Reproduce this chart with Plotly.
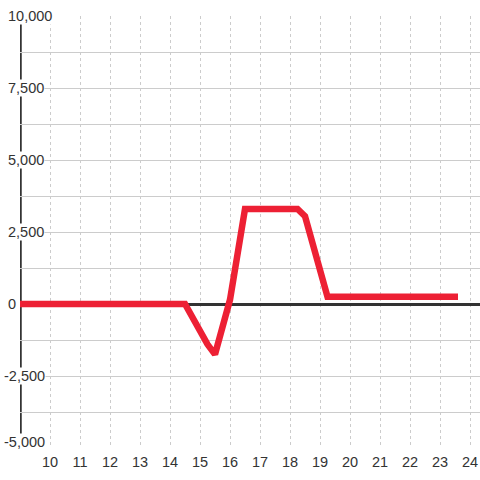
import plotly.graph_objects as go

# data
x_vals = [9, 14.5, 15.25, 15.5, 16.0, 16.25, 16.5, 18.25, 18.5, 19.25, 23.6]
y_vals = [0, 0, -1400, -1750, 150, 1900, 3300, 3300, 3050, 250, 250]
x_ticks = list(range(10, 25))
y_label_vals = [-5000, -2500, 0, 2500, 5000, 7500, 10000]
y_label_text = ["-5,000", "-2,500", "0", "2,500", "5,000", "7,500", "10,000"]

FONT = "Liberation Sans, Arial, sans-serif"
TXT = "#333333"
BG = "#ffffff"
FS = 14.5

fig = go.Figure()
fig.add_trace(go.Scatter(x=x_vals, y=y_vals, mode="lines",
                         line=dict(color="#ED2034", width=6.5), hoverinfo="skip"))

annotations = []
for v, t in zip(y_label_vals, y_label_text):
    annotations.append(dict(
        x=-13 / 460, xref="paper", y=v, yref="y", text=t, showarrow=False,
        xanchor="left", yanchor="middle", bgcolor=BG, borderpad=0,
        xshift=-4 if v < 0 else 0, yshift=6 if v == -5000 else 0,
        font=dict(family=FONT, size=FS, color=TXT)))

fig.update_layout(
    width=480, height=480,
    margin=dict(l=20, r=0, t=16, b=32, autoexpand=False),
    paper_bgcolor=BG, plot_bgcolor=BG,
    showlegend=False,
    font=dict(family=FONT, size=FS, color=TXT),
    xaxis=dict(range=[9, 9 + 460 / 30], tickvals=x_ticks, showgrid=True,
               gridcolor="#cccccc", griddash="dot", gridwidth=1,
               zeroline=False, showline=False, ticks="", automargin=False,
               ticklabelstandoff=3,
               tickfont=dict(family=FONT, size=FS, color=TXT)),
    yaxis=dict(range=[-5000, 10000], tick0=0, dtick=1250, showticklabels=False,
               showgrid=True, gridcolor="#cccccc", gridwidth=1,
               zeroline=True, zerolinecolor="#333333", zerolinewidth=3,
               showline=False, ticks="", automargin=False),
    shapes=[dict(type="line", xref="x", yref="y", x0=9, x1=9, y0=-5000, y1=10000,
                 line=dict(color="#333333", width=3.5), layer="below")],
    annotations=annotations,
)

post = ("document.documentElement.style.margin='0';"
        "document.body.style.margin='0';document.body.style.padding='0';"
        "document.documentElement.style.overflow='hidden';"
        "var gd=document.getElementById('{plot_id}');"
        "Plotly.relayout(gd,{width:480,height:480});")

fig.write_html("out.html", post_script=post,
               config={"displayModeBar": False, "staticPlot": True})
